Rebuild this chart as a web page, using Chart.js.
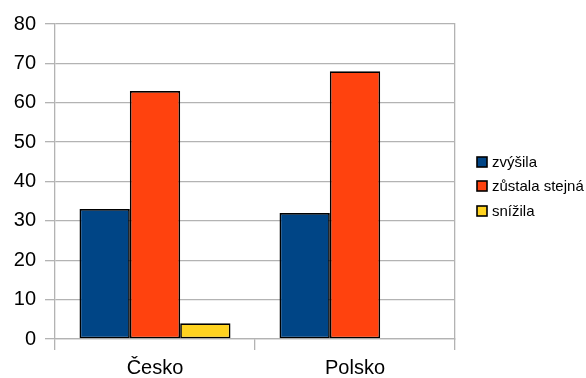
<!DOCTYPE html>
<html>
<head>
<meta charset="utf-8">
<script src="https://cdn.jsdelivr.net/npm/chart.js@4/dist/chart.umd.min.js"></script>
<style>
  html, body { margin: 0; padding: 0; background: #fff; }
  #wrap { width: 586px; height: 378px; position: relative; }
</style>
</head>
<body>
<div id="wrap"><canvas id="c"></canvas></div>
<script>
// Categories and series (percent)
const categories = ['Česko', 'Polsko'];
const zvysila = [33, 32];
const zustalaStejna = [63, 68];
const snizila = [4, 0];
const seriesNames = ['zvýšila', 'zůstala stejná', 'snížila'];
const yTicks = [0, 10, 20, 30, 40, 50, 60, 70, 80];

const colors = ['#004586', '#ff420e', '#ffd320'];
const gridColor = '#b3b3b3';
const fontFamily = '"Liberation Sans", Arial, sans-serif';

// Legend drawn to the right of the plot area
const sideLegend = {
  id: 'sideLegend',
  afterDraw(chart) {
    const ctx = chart.ctx;
    const rows = [162, 186, 211];
    ctx.save();
    ctx.font = '15px ' + fontFamily;
    ctx.textBaseline = 'middle';
    ctx.textAlign = 'left';
    chart.data.datasets.forEach((ds, i) => {
      const cy = rows[i];
      ctx.fillStyle = ds.backgroundColor;
      ctx.fillRect(477, cy - 5, 10, 10);
      ctx.lineWidth = 1.6;
      ctx.strokeStyle = '#000';
      ctx.strokeRect(477, cy - 5, 10, 10);
      ctx.fillStyle = '#000';
      ctx.fillText(ds.label, 492, cy + 1);
    });
    ctx.restore();
  }
};

const values = [zvysila, zustalaStejna, snizila];

new Chart(document.getElementById('c'), {
  type: 'bar',
  data: {
    labels: categories,
    datasets: values.map((v, i) => ({
      label: seriesNames[i],
      data: v,
      backgroundColor: colors[i],
      borderColor: '#000',
      borderWidth: 1.7,
      borderSkipped: false,
      categoryPercentage: 0.755,
      barPercentage: 1
    }))
  },
  options: {
    responsive: true,
    maintainAspectRatio: false,
    animation: false,
    layout: { padding: { top: 24, right: 131, left: 0, bottom: 0 } },
    plugins: { legend: { display: false }, tooltip: { enabled: false } },
    scales: {
      x: {
        grid: {
          offset: true,
          drawOnChartArea: false,
          drawTicks: true,
          tickLength: 11,
          color: gridColor,
          lineWidth: 1.3
        },
        border: { color: gridColor, width: 1.3 },
        ticks: {
          color: '#000',
          font: { family: fontFamily, size: 20 },
          padding: 6
        },
        afterFit(scale) {
          scale.height = 39;
          scale.paddingLeft = 0;
          scale.paddingRight = 0;
        }
      },
      y: {
        min: 0,
        max: 80,
        afterBuildTicks(scale) {
          scale.ticks = yTicks.map(v => ({ value: v }));
        },
        grid: {
          color: gridColor,
          lineWidth: 1.3,
          tickLength: 10
        },
        border: { color: gridColor, width: 1.3 },
        ticks: {
          color: '#000',
          font: { family: fontFamily, size: 20 },
          padding: 9
        },
        afterFit(scale) {
          scale.width = 55;
          scale.paddingTop = 0;
          scale.paddingBottom = 0;
        }
      },
      y2: {
        position: 'right',
        min: 0,
        max: 80,
        grid: { display: false, drawTicks: false },
        ticks: { display: false },
        border: { display: true, color: gridColor, width: 1.3 },
        afterFit(scale) {
          scale.width = 0;
          scale.paddingTop = 0;
          scale.paddingBottom = 0;
        }
      }
    }
  },
  plugins: [sideLegend]
});
</script>
</body>
</html>
